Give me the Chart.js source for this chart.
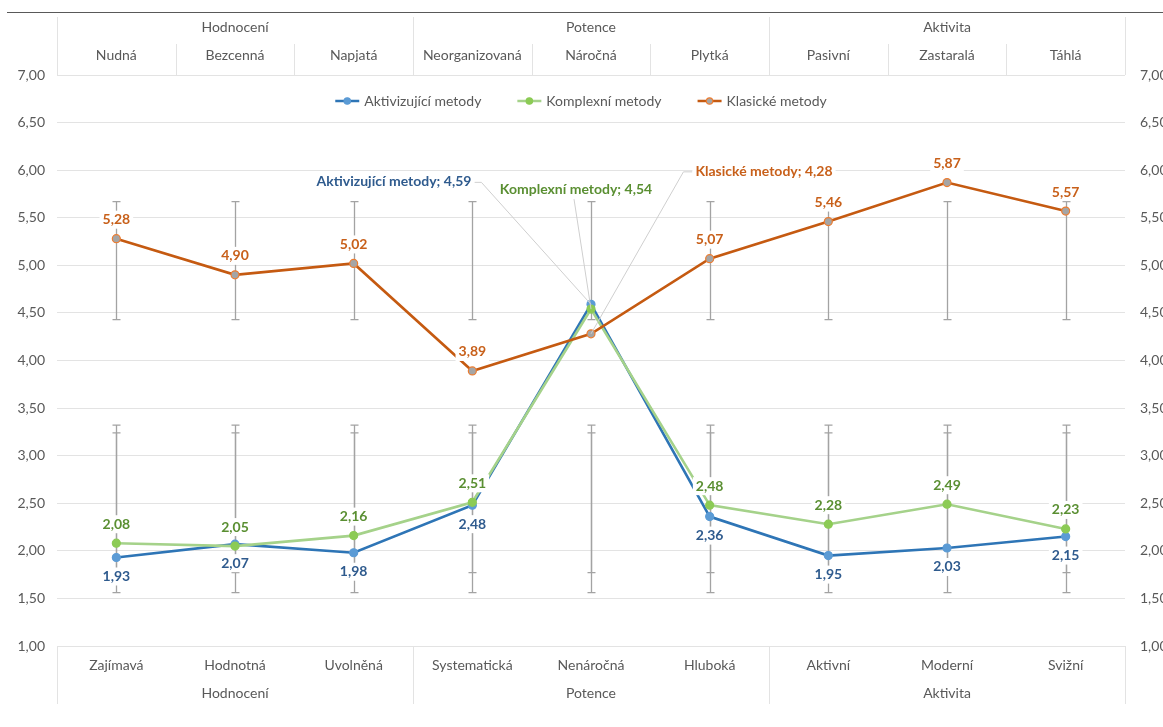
<!DOCTYPE html>
<html>
<head>
<meta charset="utf-8">
<script src="https://cdn.jsdelivr.net/npm/chart.js@4.4.1/dist/chart.umd.min.js"></script>
<style>
  html, body { margin: 0; padding: 0; background: #ffffff; }
  #wrap { width: 1163px; height: 727px; }
</style>
</head>
<body>
<div id="wrap"><canvas id="c" width="1163" height="727"></canvas></div>
<script>
// ---- data ----
const categoriesTop = ['Nudná', 'Bezcenná', 'Napjatá', 'Neorganizovaná', 'Náročná', 'Plytká', 'Pasivní', 'Zastaralá', 'Táhlá'];
const categoriesBottom = ['Zajímavá', 'Hodnotná', 'Uvolněná', 'Systematická', 'Nenáročná', 'Hluboká', 'Aktivní', 'Moderní', 'Svižní'];
const groups = ['Hodnocení', 'Potence', 'Aktivita'];
const groupSizes = [3, 3, 3];
const seriesNames = ['Aktivizující metody', 'Komplexní metody', 'Klasické metody'];
const aktivizujici = [1.93, 2.07, 1.98, 2.48, 4.59, 2.36, 1.95, 2.03, 2.15];
const komplexni = [2.08, 2.05, 2.16, 2.51, 4.54, 2.48, 2.28, 2.49, 2.23];
const klasicke = [5.28, 4.90, 5.02, 3.89, 4.28, 5.07, 5.46, 5.87, 5.57];
// error bar ranges (low / high) per category
const errUpperLow = [4.43, 4.43, 4.43, 4.43, 4.43, 4.43, 4.43, 4.43, 4.43];
const errUpperHigh = [5.67, 5.67, 5.67, 5.67, 5.67, 5.67, 5.67, 5.67, 5.67];
const errLowerALow = [1.56, 1.56, 1.56, 1.56, 1.56, 1.56, 1.56, 1.56, 1.56];
const errLowerAHigh = [3.32, 3.32, 3.32, 3.32, 3.32, 3.32, 3.32, 3.32, 3.32];
const errLowerBLow = [1.77, 1.77, 1.77, 1.77, 1.77, 1.77, 1.77, 1.77, 1.77];
const errLowerBHigh = [3.24, 3.24, 3.24, 3.24, 3.24, 3.24, 3.24, 3.24, 3.24];
const yMin = 1, yMax = 7, yStep = 0.5;
const calloutIndex = 4;

// ---- style ----
const FONT = "Lato, 'Open Sans', sans-serif";
const TXT = '#595959';
const GRID = '#E3E3E3';
const styles = [
  { line: '#2E75B6', marker: '#5B9BD5', border: '#5B9BD5', label: '#2F5B8E', pos: 'below', callout: { dx: -197, dy: -123, leader: 'right' } },
  { line: '#A5D28A', marker: '#8CCB55', border: '#8CCB55', label: '#5A8F32', pos: 'above', callout: { dx: -15, dy: -120, leader: 'bottom' } },
  { line: '#C55A11', marker: '#A5A5A5', border: '#ED7D31', label: '#C8601A', pos: 'above', callout: { dx: 173, dy: -162, leader: 'left' } }
];
const seriesData = [aktivizujici, komplexni, klasicke];

function fmt(v) { return v.toFixed(2).replace('.', ','); }

const errorBarsPlugin = {
  id: 'errorBars',
  beforeDatasetsDraw(chart) {
    const { ctx, scales: { x, y } } = chart;
    const sets = [[errUpperLow, errUpperHigh], [errLowerALow, errLowerAHigh], [errLowerBLow, errLowerBHigh]];
    ctx.save();
    ctx.strokeStyle = '#A3A3A3';
    ctx.lineWidth = 1.3;
    sets.forEach(([lo, hi]) => {
      lo.forEach((l, i) => {
        const px = Math.round(x.getPixelForValue(i)) + 0.5;
        const y1 = y.getPixelForValue(l), y2 = y.getPixelForValue(hi[i]);
        ctx.beginPath();
        ctx.moveTo(px, y1); ctx.lineTo(px, y2);
        ctx.moveTo(px - 4, y1); ctx.lineTo(px + 4, y1);
        ctx.moveTo(px - 4, y2); ctx.lineTo(px + 4, y2);
        ctx.stroke();
      });
    });
    ctx.restore();
  }
};

function drawLabelBox(ctx, text, cx, cy, color) {
  const w = ctx.measureText(text).width;
  ctx.fillStyle = '#ffffff';
  ctx.fillRect(cx - w / 2 - 3, cy - 9, w + 6, 18);
  ctx.fillStyle = color;
  ctx.fillText(text, cx, cy);
  return w;
}

const labelsPlugin = {
  id: 'dataLabels',
  afterDatasetsDraw(chart) {
    const { ctx } = chart;
    ctx.save();
    ctx.font = `bold 14px ${FONT}`;
    ctx.textAlign = 'center';
    ctx.textBaseline = 'middle';
    chart.data.datasets.forEach((ds, di) => {
      const meta = chart.getDatasetMeta(di);
      const st = styles[di];
      meta.data.forEach((pt, i) => {
        const v = ds.data[i];
        if (i === calloutIndex) {
          const text = ds.label + '; ' + fmt(v);
          const w = ctx.measureText(text).width;
          const cx = pt.x + st.callout.dx, cy = pt.y + st.callout.dy;
          ctx.strokeStyle = '#CFCFCF';
          ctx.lineWidth = 1;
          ctx.beginPath();
          if (st.callout.leader === 'right') {
            ctx.moveTo(cx + w / 2 + 3, cy + 1);
            ctx.lineTo(cx + w / 2 + 10, cy + 1);
            ctx.lineTo(pt.x, pt.y);
          } else if (st.callout.leader === 'left') {
            ctx.moveTo(cx - w / 2 - 3, cy);
            ctx.lineTo(cx - w / 2 - 12, cy);
            ctx.lineTo(pt.x, pt.y);
          } else {
            ctx.moveTo(cx - 2, cy + 10);
            ctx.lineTo(pt.x, pt.y);
          }
          ctx.stroke();
          drawLabelBox(ctx, text, cx, cy, st.label);
        } else {
          const cy = st.pos === 'above' ? pt.y - 19 : pt.y + 19;
          drawLabelBox(ctx, fmt(v), pt.x, cy, st.label);
        }
      });
    });
    ctx.restore();
  }
};

const framePlugin = {
  id: 'frame',
  afterDraw(chart) {
    const { ctx, chartArea: ca, scales: { x } } = chart;
    const n = categoriesTop.length;
    const step = (ca.right - ca.left) / n;
    const bx = k => ca.left + k * step;
    ctx.save();
    // top dark rule
    ctx.strokeStyle = '#595959';
    ctx.lineWidth = 1.2;
    ctx.beginPath(); ctx.moveTo(7, 12.5); ctx.lineTo(chart.width, 12.5); ctx.stroke();

    ctx.strokeStyle = GRID;
    ctx.lineWidth = 1;
    let k = 0;
    const groupEdges = [0];
    groupSizes.forEach(s => { k += s; groupEdges.push(k); });
    groupEdges.forEach(g => {
      const px = Math.round(bx(g)) + 0.5;
      ctx.beginPath();
      ctx.moveTo(px, 17); ctx.lineTo(px, ca.top);
      ctx.moveTo(px, ca.bottom); ctx.lineTo(px, ca.bottom + 58);
      ctx.stroke();
    });
    for (let i = 1; i < n; i++) {
      if (groupEdges.includes(i)) continue;
      const px = Math.round(bx(i)) + 0.5;
      ctx.beginPath(); ctx.moveTo(px, 44); ctx.lineTo(px, ca.top); ctx.stroke();
    }
    ctx.fillStyle = TXT;
    ctx.font = `14px ${FONT}`;
    ctx.textAlign = 'center';
    ctx.textBaseline = 'middle';
    categoriesTop.forEach((c, i) => ctx.fillText(c, x.getPixelForValue(i), 55));
    categoriesBottom.forEach((c, i) => ctx.fillText(c, x.getPixelForValue(i), ca.bottom + 19));
    groups.forEach((g, gi) => {
      const cx = (bx(groupEdges[gi]) + bx(groupEdges[gi + 1])) / 2;
      ctx.fillText(g, cx, 27);
      ctx.fillText(g, cx, ca.bottom + 47);
    });

    // legend
    ctx.font = `14px ${FONT}`;
    const gap = 36, lineLen = 24, tgap = 5;
    const widths = seriesNames.map(s => lineLen + tgap + ctx.measureText(s).width);
    const total = widths.reduce((a, b) => a + b, 0) + gap * (seriesNames.length - 1);
    let lx = 581 - total / 2;
    const ly = 101;
    seriesNames.forEach((s, i) => {
      const st = styles[i];
      ctx.strokeStyle = st.line;
      ctx.lineWidth = 2.5;
      ctx.beginPath(); ctx.moveTo(lx, ly); ctx.lineTo(lx + lineLen, ly); ctx.stroke();
      ctx.beginPath(); ctx.arc(lx + lineLen / 2, ly, 3.2, 0, Math.PI * 2);
      ctx.fillStyle = st.marker; ctx.fill();
      ctx.lineWidth = 1.2; ctx.strokeStyle = st.border; ctx.stroke();
      ctx.fillStyle = TXT;
      ctx.textAlign = 'left';
      ctx.fillText(s, lx + lineLen + tgap, ly);
      lx += widths[i] + gap;
    });
    ctx.restore();
  }
};

const datasets = seriesData.map((d, i) => ({
  label: seriesNames[i],
  data: d,
  borderColor: styles[i].line,
  backgroundColor: styles[i].marker,
  pointBackgroundColor: styles[i].marker,
  pointBorderColor: styles[i].border,
  pointBorderWidth: 1.2,
  pointRadius: 4,
  borderWidth: 2.6,
  tension: 0,
  order: 3 - i
}));

new Chart(document.getElementById('c'), {
  type: 'line',
  data: { labels: categoriesBottom, datasets },
  options: {
    responsive: false,
    devicePixelRatio: 1,
    animation: false,
    layout: { padding: { top: 75, bottom: 81, left: 0, right: 0 } },
    plugins: { legend: { display: false }, tooltip: { enabled: false } },
    scales: {
      x: { type: 'category', display: false, offset: true },
      y: {
        position: 'left', min: yMin, max: yMax,
        afterFit: s => { s.width = 57; },
        border: { display: false },
        grid: { color: GRID, lineWidth: 1, drawTicks: false },
        ticks: { stepSize: yStep, padding: 12, color: TXT, font: { family: FONT, size: 14 }, callback: v => fmt(v) }
      },
      y2: {
        position: 'right', min: yMin, max: yMax,
        afterFit: s => { s.width = 38; },
        border: { display: false },
        grid: { display: false, drawTicks: false },
        ticks: { stepSize: yStep, padding: 15, color: TXT, font: { family: FONT, size: 14 }, callback: v => fmt(v) }
      }
    }
  },
  plugins: [errorBarsPlugin, labelsPlugin, framePlugin]
});
</script>
</body>
</html>
